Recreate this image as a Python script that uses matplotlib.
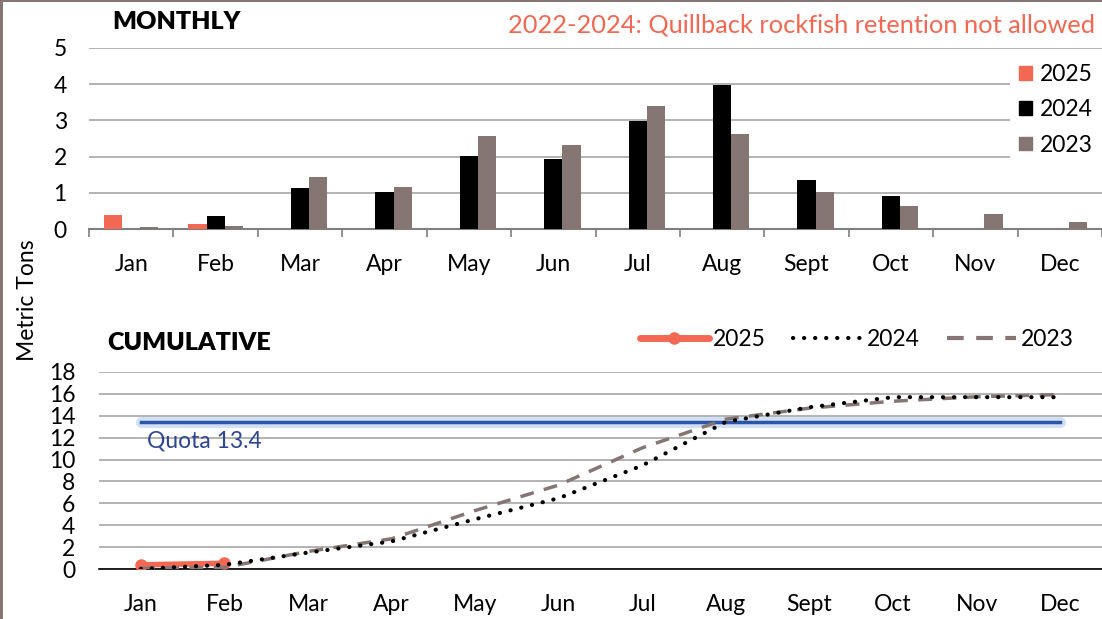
import numpy as np
import matplotlib.pyplot as plt
from matplotlib.patches import Rectangle
from matplotlib.lines import Line2D

plt.rcParams['font.family'] = ['Lato', 'DejaVu Sans']

months = ['Jan', 'Feb', 'Mar', 'Apr', 'May', 'Jun', 'Jul', 'Aug', 'Sept', 'Oct', 'Nov', 'Dec']

# monthly landings (metric tons)
monthly_2025 = [0.38, 0.14]
monthly_2024 = [0.01, 0.37, 1.12, 1.02, 2.03, 1.92, 2.99, 3.98, 1.34, 0.92, 0.0, 0.0]
monthly_2023 = [0.055, 0.09, 1.45, 1.16, 2.58, 2.33, 3.40, 2.62, 1.01, 0.63, 0.41, 0.20]

# cumulative landings (metric tons)
cum_2025 = [0.38, 0.52]
cum_2024 = [0.01, 0.38, 1.50, 2.52, 4.55, 6.47, 9.46, 13.44, 14.78, 15.70, 15.70, 15.70]
cum_2023 = [0.055, 0.145, 1.60, 2.76, 5.34, 7.67, 11.07, 13.69, 14.70, 15.33, 15.74, 15.94]

quota = 13.4

c25 = '#f26852'
c24 = '#000000'
c23 = '#857573'
grid_c = '#a6a6a6'
W, H = 1102, 619
fs = 16.5

fig = plt.figure(figsize=(W / 100, H / 100), dpi=100)
fig.patch.set_facecolor('white')

# border of the slide
fig.add_artist(Rectangle((0, 0), 3 / W, 1, transform=fig.transFigure, color=c23, lw=0))
fig.add_artist(Rectangle((0, 1 - 2 / H), 1, 2 / H, transform=fig.transFigure, color=c23, lw=0))

# ---------------- Monthly bars ----------------
ax1 = fig.add_axes([89 / W, 1 - 229 / H, 1 - 89 / W, (229 - 48) / H])
x = np.arange(len(months))
bw = 0.215
ax1.bar(np.arange(len(monthly_2025)) - bw, monthly_2025, bw, color=c25, label='2025', zorder=3)
ax1.bar(x, monthly_2024, bw, color=c24, label='2024', zorder=3)
ax1.bar(x + bw, monthly_2023, bw, color=c23, label='2023', zorder=3)
ax1.set_xlim(-0.5, 11.5)
ax1.set_ylim(0, 5)
ax1.set_yticks(range(0, 6))
ax1.yaxis.grid(True, color=grid_c, lw=1.2)
ax1.set_axisbelow(True)
for s in ['top', 'right', 'left']:
    ax1.spines[s].set_visible(False)
ax1.spines['bottom'].set_color('#7f7f7f')
ax1.spines['bottom'].set_linewidth(1.5)
ax1.set_xticks(np.arange(-0.5, 12, 1))
ax1.set_xticklabels([])
ax1.set_xticks(x, minor=True)
ax1.set_xticklabels(months, minor=True)
ax1.tick_params(axis='x', which='major', length=6, width=1.2, color='#7f7f7f')
ax1.tick_params(axis='x', which='minor', length=0, pad=18, labelsize=fs)
ax1.tick_params(axis='y', length=0, pad=16, labelsize=fs)

handles = [Rectangle((0, 0), 1, 1, color=c) for c in (c25, c24, c23)]
leg1 = ax1.legend(handles, ['2025', '2024', '2023'], loc='upper right',
                  bbox_to_anchor=(1.0, 1 - 55 / H), bbox_transform=fig.transFigure,
                  frameon=True, fontsize=fs, handlelength=0.55, handleheight=0.55,
                  handletextpad=0.35, labelspacing=0.62, borderpad=0.4,
                  borderaxespad=0)
leg1.get_frame().set_facecolor('white')
leg1.get_frame().set_edgecolor('none')
leg1.get_frame().set_alpha(1)

fig.text(112 / W, 1 - 22 / H, 'MONTHLY', fontsize=18, fontweight='heavy', va='center', ha='left')
fig.text(1095 / W, 1 - 25 / H, '2022-2024: Quillback rockfish retention not allowed',
         fontsize=18.3, color=c25, va='center', ha='right')

# ---------------- Cumulative lines ----------------
ax2 = fig.add_axes([99 / W, 1 - 569 / H, 1 - 99 / W, (569 - 372) / H])
ax2.axhline(quota, xmin=0.5 / 12, xmax=11.5 / 12, color='#9dbcec', lw=8, alpha=0.45, zorder=2,
            solid_capstyle='round')
ax2.axhline(quota, xmin=0.5 / 12, xmax=11.5 / 12, color='#2b55a6', lw=2.5, zorder=2)
ax2.plot(np.arange(len(cum_2025)), cum_2025, color=c25, lw=4, marker='o', ms=8,
         solid_capstyle='round', zorder=3)
ax2.plot(x, cum_2024, color=c24, lw=3, linestyle=(0, (0.05, 2.6)), dash_capstyle='round', zorder=4)
ax2.plot(x, cum_2023, color=c23, lw=2.5, linestyle=(0, (4, 3)), zorder=3)
ax2.text(0.08, 11.7, 'Quota 13.4', color='#2e4593', fontsize=fs, va='center', ha='left')

ax2.set_xlim(-0.5, 11.5)
ax2.set_ylim(0, 18)
ax2.set_yticks(range(0, 19, 2))
ax2.set_xticks(x)
ax2.set_xticklabels(months)
ax2.yaxis.grid(True, color=grid_c, lw=1.2)
ax2.set_axisbelow(True)
for s in ['top', 'right', 'left']:
    ax2.spines[s].set_visible(False)
ax2.spines['bottom'].set_color('#000000')
ax2.spines['bottom'].set_linewidth(1.2)
ax2.tick_params(axis='x', length=0, pad=18, labelsize=fs)
ax2.tick_params(axis='y', length=0, pad=17, labelsize=fs)

lh = [Line2D([0], [0], color=c25, lw=5, marker='o', ms=8, markevery=[1], solid_capstyle='round'),
      Line2D([0], [0], color=c24, lw=3, linestyle=(0, (0.05, 2.6)), dash_capstyle='round'),
      Line2D([0], [0], color=c23, lw=3, linestyle=(0, (4, 3)))]
for h in lh:
    h.set_xdata([0, 0.5, 1])
    h.set_ydata([0, 0, 0])
leg2 = fig.legend(lh, ['2025', '2024', '2023'], loc='center right', ncol=3,
                  bbox_to_anchor=(1094 / W, 1 - 340 / H), frameon=False, fontsize=fs,
                  handlelength=3.0, handletextpad=0.2, columnspacing=1.2)

fig.text(107 / W, 1 - 343 / H, 'CUMULATIVE', fontsize=18, fontweight='heavy', va='center', ha='left')
fig.text(28 / W, 1 - 300 / H, 'Metric Tons', rotation=90, fontsize=fs, va='center', ha='center')

fig.savefig('out.png', dpi=100)
